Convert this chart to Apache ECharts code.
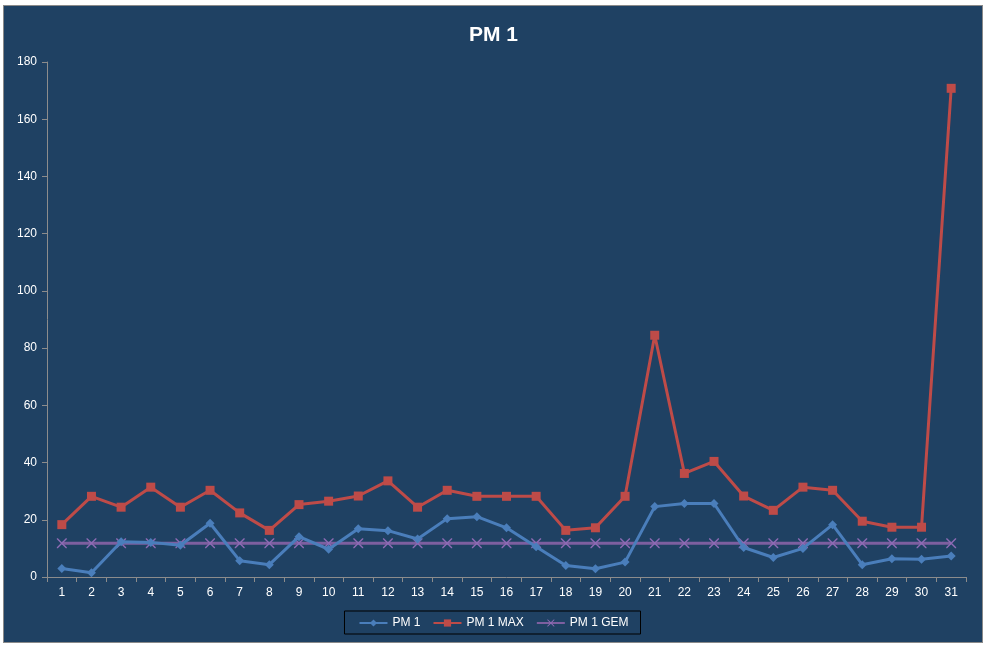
<!DOCTYPE html>
<html><head><meta charset="utf-8">
<script src="https://cdn.jsdelivr.net/npm/echarts@6/dist/echarts.min.js"></script>
<style>
html,body{margin:0;padding:0;background:#fff;}
#frame{position:absolute;left:3px;top:5px;width:978px;height:636px;background:#1F4163;border:1px solid #8a8a8a;}
#chart{position:absolute;left:0;top:0;width:987px;height:648px;}
</style></head>
<body>
<div id="frame"></div>
<div id="chart"></div>
<script>
const categories = ['1','2','3','4','5','6','7','8','9','10','11','12','13','14','15','16','17','18','19','20','21','22','23','24','25','26','27','28','29','30','31'];
const pm1 = [3.0,1.5,12.3,12.1,11.1,18.8,5.7,4.3,14.1,9.7,16.9,16.2,13.3,20.4,21.1,17.2,10.6,4.0,2.9,5.2,24.6,25.7,25.7,10.3,6.8,10.0,18.3,4.3,6.4,6.2,7.3];
const pm1Max = [18.3,28.2,24.4,31.4,24.4,30.3,22.4,16.3,25.3,26.5,28.3,33.6,24.4,30.3,28.2,28.2,28.2,16.3,17.2,28.2,84.5,36.2,40.4,28.3,23.3,31.4,30.3,19.5,17.4,17.4,170.8];
const pm1Gem = [11.8,11.8,11.8,11.8,11.8,11.8,11.8,11.8,11.8,11.8,11.8,11.8,11.8,11.8,11.8,11.8,11.8,11.8,11.8,11.8,11.8,11.8,11.8,11.8,11.8,11.8,11.8,11.8,11.8,11.8,11.8];
const yTicks = {min:0, max:180, interval:20};

const chart = echarts.init(document.getElementById('chart'), null, {renderer:'canvas'});
const font = 'Liberation Sans, Arial, sans-serif';
chart.setOption({
  backgroundColor:'transparent',
  animation:false,
  title:{text:'PM 1', left:'center', top:20, textStyle:{color:'#fff', fontSize:21, fontWeight:'bold', fontFamily:font}},
  grid:{left:47, right:21, top:62, bottom:71, containLabel:false},
  legend:{
    bottom:14, left:'center',
    borderColor:'#000', borderWidth:1, padding:[6,12,5,14],
    itemWidth:28, itemHeight:9, itemGap:12,
    textStyle:{color:'#fff', fontSize:12, fontFamily:font},
    data:['PM 1','PM 1 MAX','PM 1 GEM']
  },
  xAxis:{type:'category', data:categories, boundaryGap:true,
    axisLine:{lineStyle:{color:'#8c8c8c', width:1}},
    axisTick:{show:true, length:5, lineStyle:{color:'#8c8c8c'}},
    axisLabel:{color:'#fff', fontSize:12, fontFamily:font, margin:10, interval:0}
  },
  yAxis:{type:'value', min:yTicks.min, max:yTicks.max, interval:yTicks.interval,
    axisLine:{show:true, lineStyle:{color:'#8c8c8c', width:1}},
    axisTick:{show:true, length:5, lineStyle:{color:'#8c8c8c'}},
    splitLine:{show:false},
    axisLabel:{color:'#fff', fontSize:12, fontFamily:font, margin:10}
  },
  series:[
    {name:'PM 1', type:'line', data:pm1, symbol:'diamond', symbolSize:9, showAllSymbol:true,
      lineStyle:{color:'#4A7EBB', width:3}, itemStyle:{color:'#4A7EBB'}, z:3},
    {name:'PM 1 MAX', type:'line', data:pm1Max, symbol:'rect', symbolSize:9, showAllSymbol:true,
      lineStyle:{color:'#BE4B48', width:3}, itemStyle:{color:'#BE4B48'}, z:4},
    {name:'PM 1 GEM', type:'line', data:pm1Gem, symbol:'path://M0,0L1,0L5,4L9,0L10,0L10,1L6,5L10,9L10,10L9,10L5,6L1,10L0,10L0,9L4,5L0,1Z', symbolSize:10, showAllSymbol:true,
      lineStyle:{color:'#7D5FA0', width:3}, itemStyle:{color:'#8E6BB5'}, z:2}
  ]
});
</script>
</body></html>
